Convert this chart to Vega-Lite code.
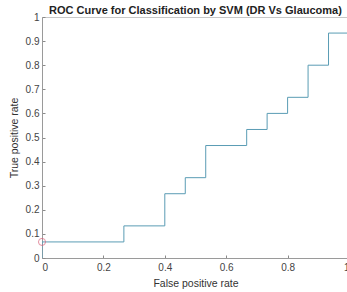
{
  "$schema": "https://vega.github.io/schema/vega-lite/v6.json",
  "width": 307,
  "height": 241,
  "autosize": {"type": "none"},
  "padding": {"left": 42, "top": 17, "right": 0, "bottom": 34},
  "background": "white",
  "config": {
    "font": "Liberation Sans",
    "view": {"stroke": "#c8c8c8", "strokeWidth": 1},
    "axis": {
      "grid": false,
      "domainColor": "#9a9a9a",
      "tickColor": "#8a8a8a",
      "labelColor": "#444444",
      "titleColor": "#333333",
      "labelFont": "Liberation Sans",
      "titleFont": "Liberation Sans",
      "labelFontSize": 10,
      "titleFontSize": 10.5,
      "titleFontWeight": "normal",
      "tickSize": -3,
      "labelOverlap": false,
      "format": "~g"
    }
  },
  "title": {
    "text": "ROC Curve for Classification by SVM (DR Vs Glaucoma)",
    "fontSize": 11,
    "fontWeight": "bold",
    "font": "Liberation Sans",
    "color": "#222222",
    "anchor": "middle",
    "offset": -4
  },
  "datasets": {
    "roc": [
      {"i": 0, "fpr": 0, "tpr": 0},
      {"i": 1, "fpr": 0, "tpr": 0.0667},
      {"i": 2, "fpr": 0.2667, "tpr": 0.0667},
      {"i": 3, "fpr": 0.2667, "tpr": 0.1333},
      {"i": 4, "fpr": 0.4, "tpr": 0.1333},
      {"i": 5, "fpr": 0.4, "tpr": 0.2667},
      {"i": 6, "fpr": 0.4667, "tpr": 0.2667},
      {"i": 7, "fpr": 0.4667, "tpr": 0.3333},
      {"i": 8, "fpr": 0.5333, "tpr": 0.3333},
      {"i": 9, "fpr": 0.5333, "tpr": 0.4667},
      {"i": 10, "fpr": 0.6667, "tpr": 0.4667},
      {"i": 11, "fpr": 0.6667, "tpr": 0.5333},
      {"i": 12, "fpr": 0.7333, "tpr": 0.5333},
      {"i": 13, "fpr": 0.7333, "tpr": 0.6},
      {"i": 14, "fpr": 0.8, "tpr": 0.6},
      {"i": 15, "fpr": 0.8, "tpr": 0.6667},
      {"i": 16, "fpr": 0.8667, "tpr": 0.6667},
      {"i": 17, "fpr": 0.8667, "tpr": 0.8},
      {"i": 18, "fpr": 0.9333, "tpr": 0.8},
      {"i": 19, "fpr": 0.9333, "tpr": 0.9333},
      {"i": 20, "fpr": 1, "tpr": 0.9333},
      {"i": 21, "fpr": 1, "tpr": 1}
    ],
    "op": [
      {"fpr": 0, "tpr": 0.0667}
    ]
  },
  "layer": [
    {
      "data": {"name": "roc"},
      "mark": {"type": "line", "color": "#5a9cb4", "strokeWidth": 1, "clip": true},
      "encoding": {
        "x": {
          "field": "fpr", "type": "quantitative",
          "scale": {"domain": [0, 1], "nice": false},
          "axis": {"title": "False positive rate", "values": [0, 0.2, 0.4, 0.6, 0.8, 1], "labelPadding": 7, "titlePadding": 6}
        },
        "y": {
          "field": "tpr", "type": "quantitative",
          "scale": {"domain": [0, 1], "nice": false},
          "axis": {"title": "True positive rate", "values": [0, 0.1, 0.2, 0.3, 0.4, 0.5, 0.6, 0.7, 0.8, 0.9, 1], "labelPadding": 6, "titlePadding": 6}
        },
        "order": {"field": "i", "type": "quantitative"}
      }
    },
    {
      "data": {"name": "op"},
      "mark": {"type": "point", "shape": "circle", "filled": false, "color": "#d9607a", "size": 50, "strokeWidth": 1, "clip": false},
      "encoding": {
        "x": {"field": "fpr", "type": "quantitative", "axis": {"title": "False positive rate", "values": [0, 0.2, 0.4, 0.6, 0.8, 1], "labelPadding": 7, "titlePadding": 6}},
        "y": {"field": "tpr", "type": "quantitative", "axis": {"title": "True positive rate", "values": [0, 0.1, 0.2, 0.3, 0.4, 0.5, 0.6, 0.7, 0.8, 0.9, 1], "labelPadding": 6, "titlePadding": 6}}
      }
    }
  ]
}
